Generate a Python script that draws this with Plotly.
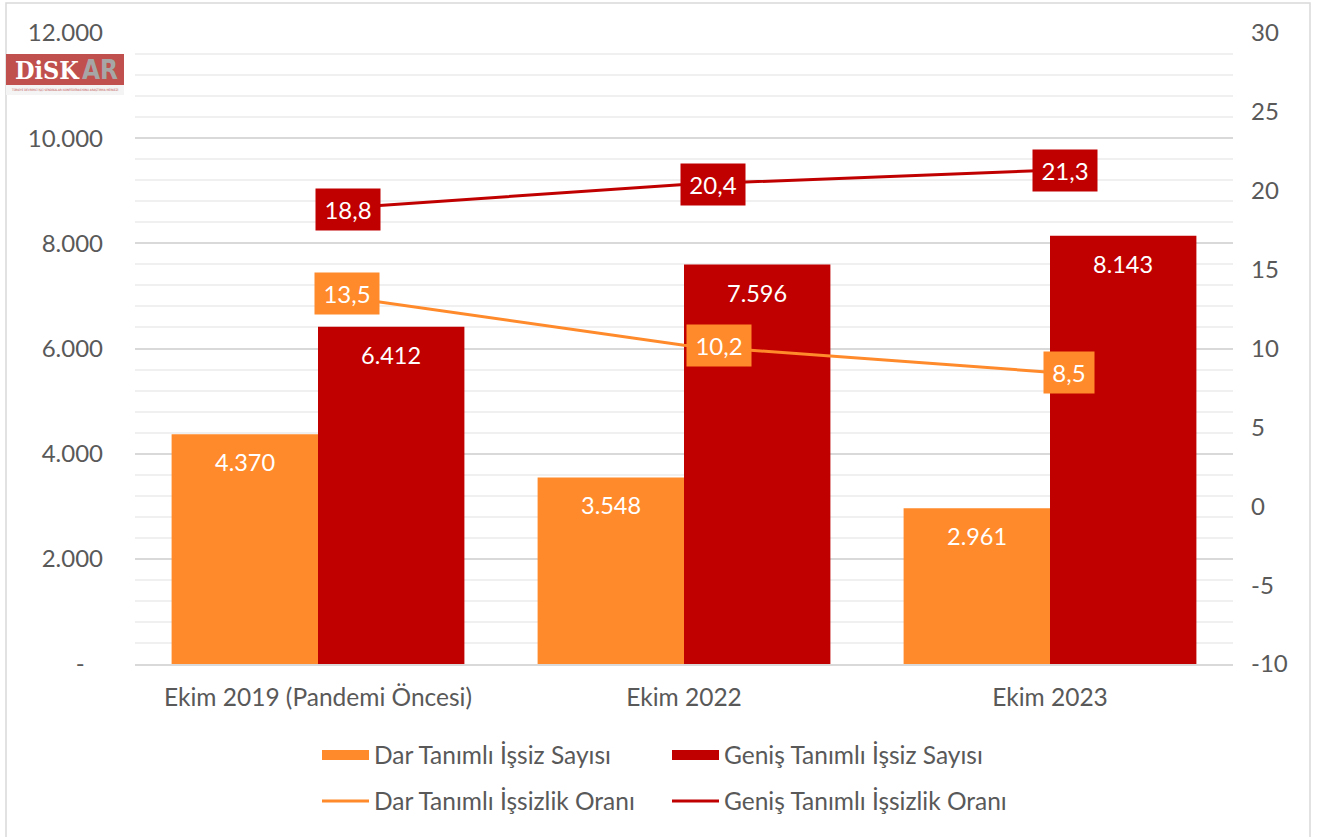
import plotly.graph_objects as go

categories = ["Ekim 2019 (Pandemi Öncesi)", "Ekim 2022", "Ekim 2023"]
dar_sayisi = [4370, 3548, 2961]
genis_sayisi = [6412, 7596, 8143]
dar_oran = [13.5, 10.2, 8.5]
genis_oran = [18.8, 20.4, 21.3]
left_ticks = [0, 2000, 4000, 6000, 8000, 10000, 12000]
left_ticktext = ["-\u00a0\u00a0\u00a0", "2.000", "4.000", "6.000", "8.000", "10.000", "12.000"]
right_ticks = [-10, -5, 0, 5, 10, 15, 20, 25, 30]
right_ticktext = ["-10", "-5", "0", "5", "10", "15", "20", "25", "30"]

ORANGE = "#FF8A2B"
RED = "#C00000"
GRAY_TXT = "#595959"
FONT = "Lato"
W, H = 1325, 837
L, R, T, B = 135, 92, 33, 173
PW, PH = W - L - R, H - T - B


def px2x(px):
    return (px - L) / PW


def py2y(py):
    return (H - B - py) / PH


def tr(v):
    return f"{v:,}".replace(",", ".")


def dec(v):
    return f"{v:.1f}".replace(".", ",")


fig = go.Figure()
fig.add_trace(go.Bar(x=categories, y=dar_sayisi, name="Dar Tanımlı İşsiz Sayısı", showlegend=False,
                     marker=dict(color=ORANGE, line=dict(width=0))))
fig.add_trace(go.Bar(x=categories, y=genis_sayisi, name="Geniş Tanımlı İşsiz Sayısı", showlegend=False,
                     marker=dict(color=RED, line=dict(width=0))))
# legend keys for the bar series (wide filled rectangles like the original)
fig.add_trace(go.Scatter(x=[None], y=[None], name="Dar Tanımlı İşsiz Sayısı", mode="lines",
                         line=dict(color=ORANGE, width=10), legend="legend", hoverinfo="skip"))
fig.add_trace(go.Scatter(x=[None], y=[None], name="Geniş Tanımlı İşsiz Sayısı", mode="lines",
                         line=dict(color=RED, width=10), legend="legend", hoverinfo="skip"))
fig.add_trace(go.Scatter(x=categories, y=dar_oran, name="Dar Tanımlı İşsizlik Oranı", yaxis="y2",
                         mode="lines", line=dict(color=ORANGE, width=3), legend="legend2"))
fig.add_trace(go.Scatter(x=categories, y=genis_oran, name="Geniş Tanımlı İşsizlik Oranı", yaxis="y2",
                         mode="lines", line=dict(color=RED, width=3), legend="legend2"))

annotations = []
bargap = 0.2
off = (1 - bargap) / 4
for i, (d, g) in enumerate(zip(dar_sayisi, genis_sayisi)):
    annotations.append(dict(x=i - off, y=d, xref="x", yref="y", text=tr(d), showarrow=False,
                            yshift=-28, font=dict(family=FONT, size=23.5, color="white")))
    annotations.append(dict(x=i + off, y=g, xref="x", yref="y", text=tr(g), showarrow=False,
                            yshift=-28, font=dict(family=FONT, size=23.5, color="white")))

genis_shift = [30, 29, 15]
dar_shift = [29, 35, 19]
for i, (d, g) in enumerate(zip(dar_oran, genis_oran)):
    annotations.append(dict(x=i, y=g, xref="x", yref="y2", text=dec(g), showarrow=False,
                            xshift=genis_shift[i], bgcolor=RED, borderpad=4,
                            width=56 if len(dec(g)) > 3 else 42, height=33,
                            font=dict(family=FONT, size=24, color="white")))
    annotations.append(dict(x=i, y=d, xref="x", yref="y2", text=dec(d), showarrow=False,
                            xshift=dar_shift[i], bgcolor=ORANGE, borderpad=4,
                            width=56 if len(dec(d)) > 3 else 42, height=33,
                            font=dict(family=FONT, size=24, color="white")))

# Logo
annotations.append(dict(x=px2x(13), y=py2y(70), xref="paper", yref="paper", xanchor="left", yanchor="middle",
                        text="<b>DiSK</b>", showarrow=False,
                        font=dict(family="DejaVu Serif Condensed, DejaVu Serif", size=25, color="white")))
annotations.append(dict(x=px2x(80), y=py2y(70), xref="paper", yref="paper", xanchor="left", yanchor="middle",
                        text="<b>AR</b>", showarrow=False,
                        font=dict(family="DejaVu Sans Condensed, DejaVu Sans", size=26, color="#A6A6A6")))
annotations.append(dict(x=px2x(65), y=py2y(90), xref="paper", yref="paper", xanchor="center", yanchor="middle",
                        text="TÜRKİYE DEVRİMCİ İŞÇİ SENDİKALARI KONFEDERASYONU ARAŞTIRMA MERKEZİ",
                        showarrow=False, font=dict(family="DejaVu Sans Condensed", size=3, color="#C0504D")))

shapes = [
    dict(type="rect", xref="paper", yref="paper", x0=px2x(6), x1=px2x(124), y0=py2y(54), y1=py2y(85),
         fillcolor="#C0504D", line=dict(width=0), layer="above"),
    dict(type="rect", xref="paper", yref="paper", x0=px2x(6), x1=px2x(124), y0=py2y(85), y1=py2y(95),
         fillcolor="#F4F4F4", line=dict(width=0), layer="above"),
    dict(type="rect", xref="paper", yref="paper", x0=px2x(6), x1=px2x(1310), y0=py2y(3), y1=py2y(845),
         fillcolor="rgba(0,0,0,0)", line=dict(color="#D9D9D9", width=1.5), layer="below"),
]

LEG_FONT = dict(family=FONT, size=24.5, color=GRAY_TXT)
fig.update_layout(
    width=W, height=H,
    margin=dict(l=L, r=R, t=T, b=B, pad=0),
    paper_bgcolor="white", plot_bgcolor="white",
    barmode="group", bargap=bargap, bargroupgap=0,
    font=dict(family=FONT, size=24, color=GRAY_TXT),
    xaxis=dict(showgrid=False, showline=True, linecolor="#D9D9D9", linewidth=2,
               ticks="", tickfont=dict(family=FONT, size=24.5, color=GRAY_TXT), ticklabelstandoff=11),
    yaxis=dict(range=[0, 12000], tickmode="array", tickvals=left_ticks, ticktext=left_ticktext,
               showgrid=True, gridcolor="#D9D9D9", gridwidth=1.5, zeroline=False, showline=False,
               ticks="", ticklabelstandoff=31, tickfont=dict(family=FONT, size=24, color=GRAY_TXT),
               minor=dict(tick0=0, dtick=400, showgrid=True, gridcolor="#F0F0F0", gridwidth=1.5, ticks="")),
    yaxis2=dict(range=[-10, 30], tickmode="array", tickvals=right_ticks, ticktext=right_ticktext,
                overlaying="y", side="right", showgrid=False, zeroline=False,
                showline=False, ticks="", ticklabelstandoff=17,
                tickfont=dict(family=FONT, size=24, color=GRAY_TXT)),
    legend=dict(orientation="h", xref="container", yref="container", x=317 / W, y=1 - 755 / H,
                xanchor="left", yanchor="middle", entrywidth=288, entrywidthmode="pixels",
                itemwidth=47, font=LEG_FONT, bgcolor="rgba(0,0,0,0)"),
    legend2=dict(orientation="h", xref="container", yref="container", x=317 / W, y=1 - 801 / H,
                 xanchor="left", yanchor="middle", entrywidth=288, entrywidthmode="pixels",
                 itemwidth=47, font=LEG_FONT, bgcolor="rgba(0,0,0,0)"),
    annotations=annotations,
    shapes=shapes,
    separators=",.",
)

fig.write_html("out.html", config={"displayModeBar": False},
               post_script="document.body.style.margin='0';")
